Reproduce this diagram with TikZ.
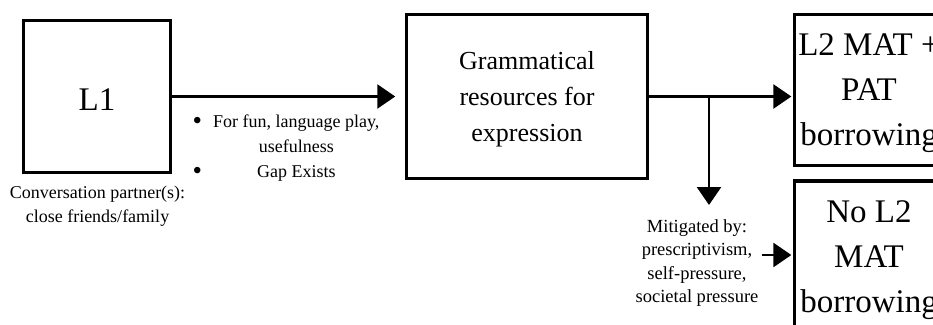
\documentclass[tikz,border=0pt]{standalone}
\usepackage{fontspec}
\setmainfont{Liberation Serif}
\usetikzlibrary{arrows.meta}

\begin{document}
\begin{tikzpicture}[x=1pt,y=-1pt,
  box/.style={draw, line width=3.3pt, align=center, inner sep=0pt, text depth=0pt},
  link/.style={line width=2.6pt, -{Triangle[length=18pt,width=24pt]}},
  big/.style={font=\fontsize{33}{45}\selectfont},
  mid/.style={font=\fontsize{26}{36}\selectfont},
  small/.style={font=\fontsize{18}{25}\selectfont},
  note/.style={font=\fontsize{18.5}{23.4}\selectfont, align=center, inner sep=0pt}]

\newcommand\dotmark{\raisebox{-2.5pt}{\fontsize{27}{25}\selectfont\textbullet}}

\useasboundingbox (0,0) rectangle (933,324);
\clip (0,0) rectangle (933,324);

% boxes
\node[box, big, text height=28pt, minimum width=147pt, minimum height=152pt] (l1) at (97,96.5) {L1};
\node[box, mid, minimum width=241pt, minimum height=164pt] (gram) at (527,96.5)
  {Grammatical\\resources for\\expression};
\node[box, big, minimum width=149pt, minimum height=151pt] (tr) at (869,90)
  {L2 MAT +\\PAT\\borrowing};
\node[box, big, minimum width=149pt, minimum height=151pt] (br) at (869,256.5)
  {No L2\\MAT\\borrowing};

% captions
\node[small, align=center, inner sep=0pt, anchor=north] (conv) at (97.5,185.5)
  {Conversation partner(s):\\[-1pt]close friends/family};
\node[small, inner sep=0pt, anchor=north west] (why) at (192.5,109.5)
  {\begin{tabular}{@{}c@{\hspace{11pt}}c@{}}
   \dotmark & For fun, language play,\\
            & usefulness\\
   \dotmark & Gap Exists
   \end{tabular}};
\node[note, anchor=north] (mit) at (697,219.4)
  {Mitigated by:\\prescriptivism,\\self-pressure,\\societal pressure};

% connectors
\draw[link, shorten >=9.6pt] (l1.east) -- (gram.west);
\draw[link, shorten >=1.5pt] (gram.east) -- (gram.east -| tr.west);
\coordinate (split) at (709,96.5);
\coordinate (drop) at (709,205);
\draw[link] (split) -- (drop);
\coordinate (push) at (762,255);
\draw[link, shorten >=1.5pt] (push) -- (push -| br.west);
\end{tikzpicture}
\end{document}
